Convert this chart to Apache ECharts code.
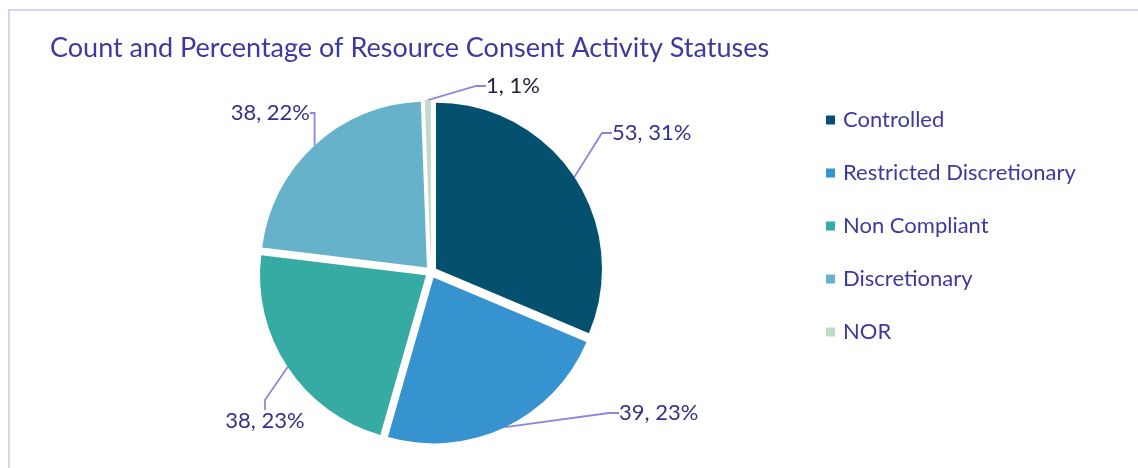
<!DOCTYPE html>
<html>
<head>
<meta charset="utf-8">
<script src="https://cdn.jsdelivr.net/npm/echarts@6/dist/echarts.min.js"></script>
<style>
  html, body { margin: 0; padding: 0; background: #fff; }
  .frame {
    position: absolute; left: 8px; top: 9px; width: 1130px; height: 459px;
    border-top: 2px solid #d6d4f2; border-left: 2px solid #d6d4f2;
  }
  #chart { position: absolute; left: 0; top: 0; width: 1138px; height: 468px; }
</style>
</head>
<body>
<div class="frame"></div>
<div id="chart"></div>
<script>
const categories = ['Controlled', 'Restricted Discretionary', 'Non Compliant', 'Discretionary', 'NOR']
const counts = [53, 39, 38, 38, 1]
const percentLabels = ['31%', '23%', '23%', '22%', '1%']
const colors = ['#03506f', '#3792d0', '#36aba3', '#67b2cb', '#bfdccb']

const font = 'Lato'
const cx = 431, cy = 272
const explode = 6
// where Excel put each data label, relative to the pie centre
const labelSpots = [
  { dx: 177, dy: -139, align: 'left' },
  { dx: 184, dy: 141, align: 'left' },
  { dx: -166, dy: 149, align: 'center' },
  { dx: -117, dy: -159, align: 'right' },
  { dx: 51, dy: -186, align: 'left' }
]

const chart = echarts.init(document.getElementById('chart'))

const pieBase = {
  type: 'pie',
  center: [cx, cy],
  startAngle: 90,
  avoidLabelOverlap: false,
  emphasis: { disabled: true }
}

chart.setOption({
  animation: false,
  color: colors,
  title: {
    text: 'Count and Percentage of Resource Consent Activity Statuses',
    left: 45, top: 30,
    textStyle: { fontFamily: font, fontSize: 27, fontWeight: 'normal', color: '#3d3a9e' }
  },
  legend: {
    orient: 'vertical',
    left: 821, top: 104,
    itemWidth: 9, itemHeight: 9, itemGap: 31,
    icon: 'rect',
    textStyle: { fontFamily: font, fontSize: 22, color: '#3d3a9e', padding: [0, 0, 0, 3] },
    data: categories
  },
  series: [
    // the exploded slices
    Object.assign({}, pieBase, {
      radius: 166,
      selectedMode: 'multiple',
      selectedOffset: explode,
      label: { show: false },
      labelLine: { show: false },
      data: categories.map((name, i) => ({ name, value: counts[i], selected: true }))
    }),
    // invisible twin that carries the data labels
    Object.assign({}, pieBase, {
      radius: 166 + explode,
      silent: true,
      legendHoverLink: false,
      itemStyle: { color: 'rgba(0,0,0,0)' },
      data: categories.map((name, i) => ({
        name, value: counts[i],
        label: { color: i === 4 ? '#222240' : '#35328a' }
      })),
      label: {
        show: true,
        formatter: p => p.value + ', ' + percentLabels[p.dataIndex],
        fontFamily: font, fontSize: 22, color: '#35328a',
        padding: [2, 4]
      },
      labelLine: {
        show: true, length: 20, length2: 10,
        lineStyle: { color: '#8f86dc', width: 1.8 }
      },
      labelLayout: p => {
        const s = labelSpots[p.dataIndex]
        return { x: cx + s.dx, y: cy + s.dy, align: s.align, verticalAlign: 'middle' }
      }
    })
  ]
})
</script>
</body>
</html>
